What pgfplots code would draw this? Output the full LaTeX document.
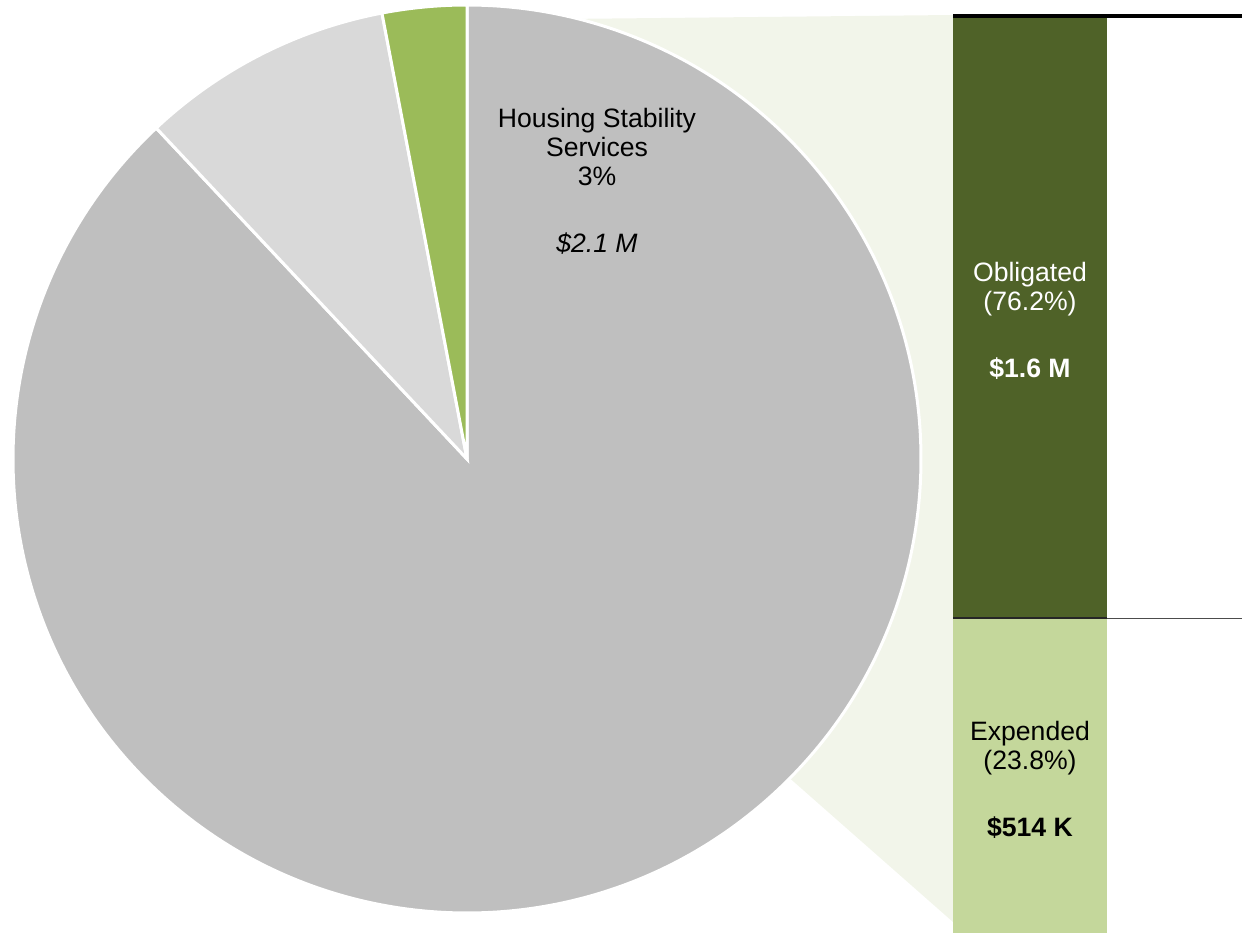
\documentclass[border=0pt]{standalone}
\usepackage{pgfplots}
\pgfplotsset{compat=1.18}
\usepackage{fontspec}
\setmainfont{Liberation Sans}
\definecolor{biggray}{HTML}{BFBFBF}
\definecolor{lightgray2}{HTML}{D9D9D9}
\definecolor{slicegreen}{HTML}{9BBB59}
\definecolor{darkgreen}{HTML}{4F6228}
\definecolor{lightgreen}{HTML}{C4D79B}
\definecolor{shade}{HTML}{F2F5EA}
% pie shares (percent)
\def\pA{3}   % Housing Stability Services
\def\pB{9}
\def\pC{88}
\begin{document}
\begin{tikzpicture}
\begin{axis}[
  x=0.5pt, y=0.5pt,
  xmin=0, xmax=1242, ymin=0, ymax=933,
  hide axis, clip=true,
]
\path (axis cs:0,0) rectangle (axis cs:1242,933);
% connector shade
\addplot[fill=shade, draw=none] coordinates {(467,913) (953,918) (953,11) (467,439)} -- cycle;
% pie slices
\pgfmathsetmacro{\aA}{90}
\pgfmathsetmacro{\aB}{90+\pA*3.6}
\pgfmathsetmacro{\aC}{\aB+\pB*3.6}
\pgfmathsetmacro{\aD}{\aC+\pC*3.6}
\fill[biggray, draw=white, line width=1.5pt] (axis cs:467,474) -- +(\aC:227pt) arc[start angle=\aC, end angle=\aD, radius=227pt] -- cycle;
\fill[lightgray2, draw=white, line width=1.5pt] (axis cs:467,474) -- +(\aB:227pt) arc[start angle=\aB, end angle=\aC, radius=227pt] -- cycle;
\fill[slicegreen, draw=white, line width=1.5pt] (axis cs:467,474) -- +(\aA:227pt) arc[start angle=\aA, end angle=\aB, radius=227pt] -- cycle;
% bar of pie
\addplot[fill=lightgreen, draw=none] coordinates {(953,0) (1107,0) (1107,315) (953,315)} -- cycle;
\addplot[fill=darkgreen, draw=none] coordinates {(953,315) (1107,315) (1107,916) (953,916)} -- cycle;
\draw[black, line width=1.7pt] (axis cs:953,917) -- (axis cs:1242,917);
\draw[black!85, line width=0.9pt] (axis cs:953,315) -- (axis cs:1107,315);
\draw[black!70, line width=0.8pt] (axis cs:1107,314.5) -- (axis cs:1242,314.5);
% labels
\node[align=center, font=\fontsize{13.3}{14.5}\selectfont, anchor=north] at (axis cs:597,832)
  {Housing Stability\\Services\\3\%\\[19pt]\textit{\$2.1 M}};
\node[align=center, text=white, font=\fontsize{13.3}{14.5}\selectfont, anchor=north] at (axis cs:1030,678)
  {Obligated\\(76.2\%)\\[19pt]\textbf{\$1.6 M}};
\node[align=center, text=black, font=\fontsize{13.3}{14.5}\selectfont, anchor=north] at (axis cs:1030,219)
  {Expended\\(23.8\%)\\[19pt]\textbf{\$514 K}};
\end{axis}
\end{tikzpicture}
\end{document}
